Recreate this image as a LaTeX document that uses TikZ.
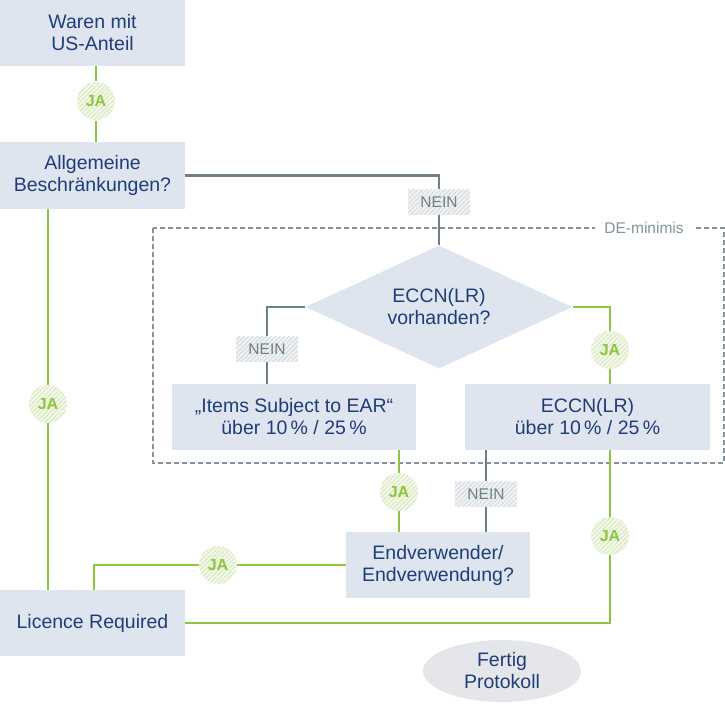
\documentclass[tikz,border=0pt]{standalone}
\usepackage{fontspec}
\setmainfont{Liberation Sans}
\usetikzlibrary{shapes.geometric,patterns.meta}
\definecolor{boxfill}{HTML}{DFE5EE}
\definecolor{boxtext}{HTML}{1F3D7A}
\definecolor{jagreen}{HTML}{8DC63F}
\definecolor{jabg}{HTML}{F5F9EE}
\definecolor{jastripe}{HTML}{DCEBC4}
\definecolor{greyline}{HTML}{6E7F86}
\definecolor{neinbg}{HTML}{F2F4F6}
\definecolor{neinstripe}{HTML}{D9DEE2}
\definecolor{dashgrey}{HTML}{84939A}
\definecolor{ellfill}{HTML}{E4E6E9}
\tikzset{
  x=1pt,y=-1pt,
  stepbox/.style={rectangle,fill=boxfill,text=boxtext,align=center,inner sep=0pt,
    font=\fontsize{19.5}{22}\selectfont},
  jabadge/.style={circle,minimum size=38pt,inner sep=0pt,text=jagreen,
    font=\fontsize{16}{18}\selectfont\bfseries,
    preaction={fill=jabg},pattern={Lines[angle=45,distance=3.2pt,line width=1.3pt]},pattern color=jastripe},
  neinbadge/.style={rectangle,minimum width=62pt,minimum height=25pt,inner sep=0pt,text=greyline,
    font=\fontsize{15.5}{17}\selectfont,
    preaction={fill=neinbg},pattern={Lines[angle=45,distance=3.2pt,line width=1.3pt]},pattern color=neinstripe},
  gline/.style={draw=jagreen,line width=2.8pt},
  nline/.style={draw=greyline,line width=2.8pt},
}
\begin{document}
\begin{tikzpicture}
\useasboundingbox (0,0) rectangle (725,707);
% DE-minimis frame
\draw[dashgrey,line width=1.2pt,dash pattern=on 5pt off 3pt] (153,228) rectangle (724,463);
\node[fill=white,text=dashgrey,font=\fontsize{15.5}{17}\selectfont,inner xsep=9pt,inner ysep=2pt] (demin) at (644,228) {DE-minimis};

% nodes
\node[stepbox,minimum width=185pt,minimum height=66pt] (waren) at (92.5,33) {Waren mit\\US-Anteil};
\node[stepbox,minimum width=185pt,minimum height=67pt] (allg) at (92.5,175.5) {Allgemeine\\Beschränkungen?};
\node[stepbox,minimum width=185pt,minimum height=66pt] (lic) at (92.5,623) {Licence Required};
\node[diamond,fill=boxfill,draw=none,aspect=2.17,minimum width=267pt,minimum height=123pt,inner sep=0pt,
  text=boxtext,align=center,font=\fontsize{19.5}{22}\selectfont] (dia) at (439,307) {ECCN(LR)\\vorhanden?};
\node[stepbox,minimum width=244pt,minimum height=66pt] (items) at (294,417) {„Items Subject to EAR“\\über 10\,\% / 25\,\%};
\node[stepbox,minimum width=245pt,minimum height=66pt] (eccn) at (587.5,417) {ECCN(LR)\\über 10\,\% / 25\,\%};
\node[stepbox,minimum width=184pt,minimum height=66pt] (endv) at (438,565) {Endverwender/\\Endverwendung?};
\node[ellipse,fill=ellfill,minimum width=158pt,minimum height=62pt,inner sep=0pt,text=boxtext,align=center,
  font=\fontsize{19.5}{22}\selectfont] (fertig) at (502,671) {Fertig\\Protokoll};

% badges
\node[jabadge] (ja1) at (96,101) {JA};
\node[neinbadge] (nein1) at (439,202) {NEIN};
\node[neinbadge] (nein2) at (267,349) {NEIN};
\node[jabadge] (ja2) at (610,350) {JA};
\node[jabadge] (ja3) at (48,404) {JA};
\node[jabadge] (ja4) at (399,492) {JA};
\node[neinbadge] (nein3) at (486,494) {NEIN};
\node[jabadge] (ja5) at (218,565) {JA};
\node[jabadge] (ja6) at (610,536) {JA};

% connectors
\draw[gline] (ja1 |- waren.south) -- (ja1) -- (ja1 |- allg.north);
\draw[nline] (allg.east) -| (nein1) -- (dia.north);
\draw[gline] (ja3 |- allg.south) -- (ja3) -- (ja3 |- lic.north);
\draw[nline] (dia.west) -| (nein2) -- (nein2 |- items.north);
\draw[gline] (dia.east) -| (ja2) -- (ja2 |- eccn.north);
\draw[gline] (ja4 |- items.south) -- (ja4) -- (ja4 |- endv.north);
\draw[nline] (nein3 |- eccn.south) -- (nein3) -- (nein3 |- endv.north);
\coordinate (lcorner) at (94,565);
\draw[gline] (endv.west) -- (ja5) -- (lcorner) -- (lcorner |- lic.north);
\draw[gline] (ja6 |- eccn.south) -- (ja6) -- (ja6 |- lic.east) -- (lic.east);
\end{tikzpicture}
\end{document}
